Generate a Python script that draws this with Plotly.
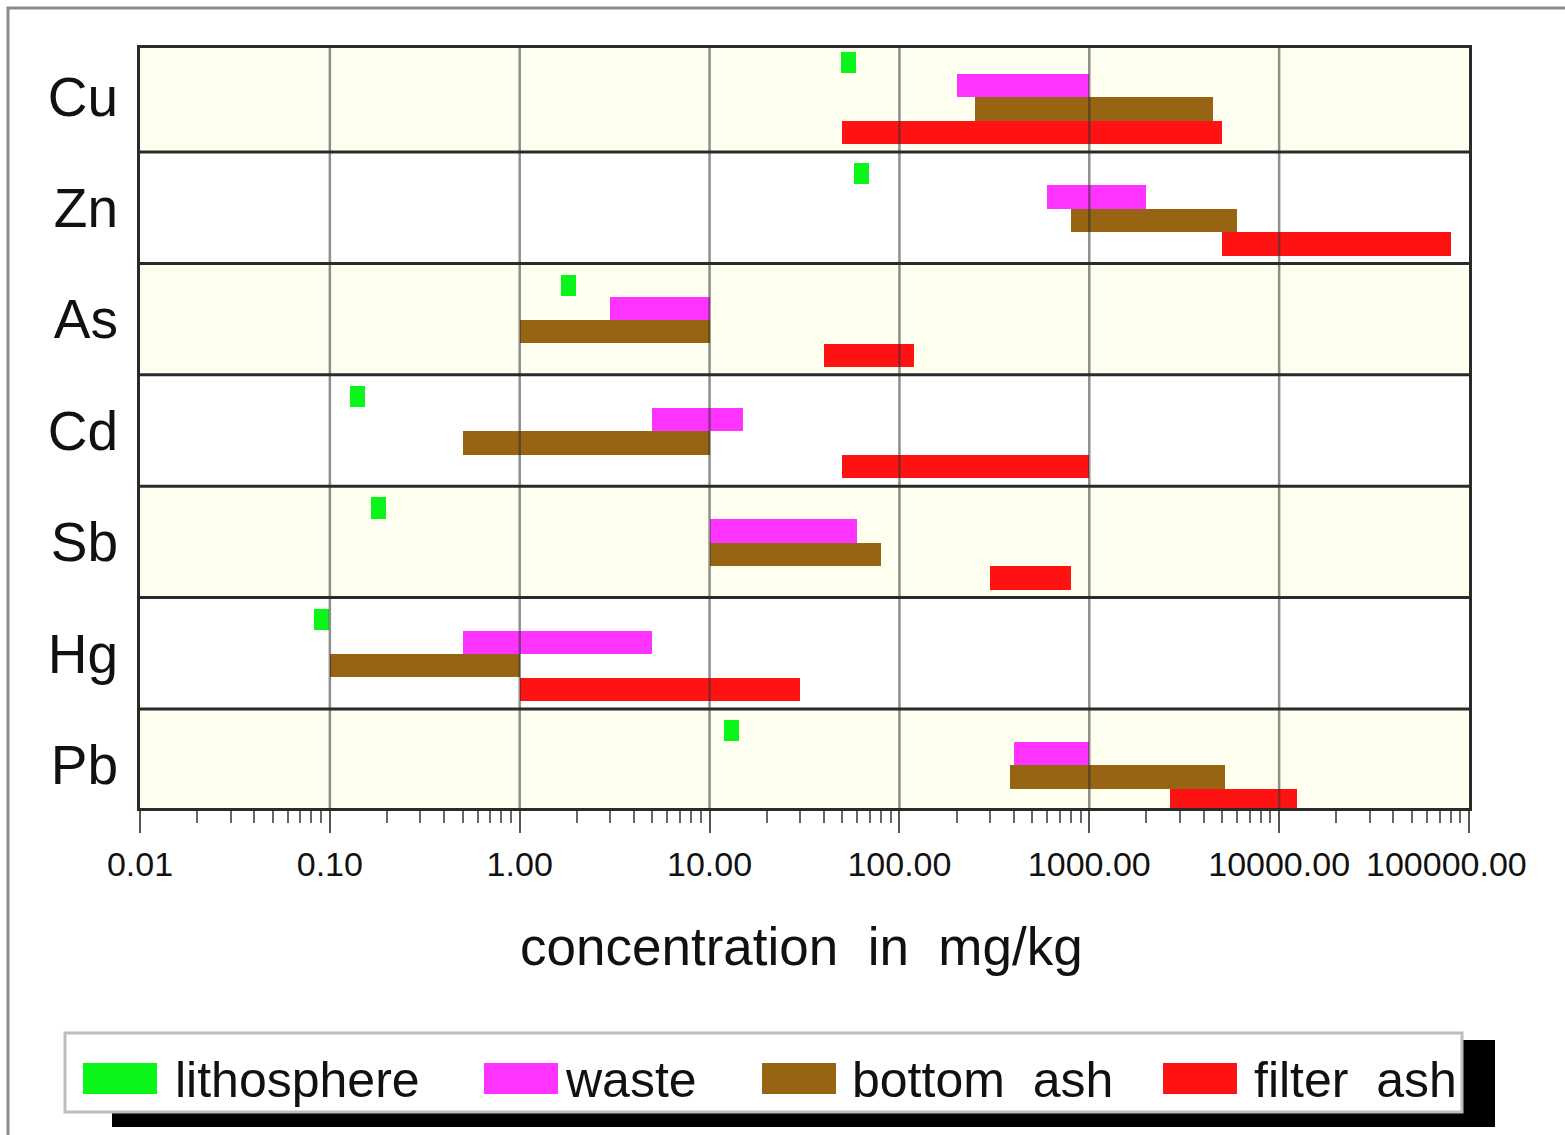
import plotly.graph_objects as go

# ---------------- data ----------------
elements = ["Cu", "Zn", "As", "Cd", "Sb", "Hg", "Pb"]
lithosphere = [54, 63, 1.8, 0.14, 0.18, 0.09, 13]
waste_lo = [200, 600, 3, 5, 10, 0.5, 400]
waste_hi = [1000, 2000, 10, 15, 60, 5, 1000]
bottom_lo = [250, 800, 1, 0.5, 10, 0.1, 380]
bottom_hi = [4500, 6000, 10, 10, 80, 1, 5200]
filter_lo = [50, 5000, 40, 50, 300, 1, 2650]
filter_hi = [5000, 80000, 120, 1000, 800, 30, 12400]
tick_vals = [0.01, 0.1, 1, 10, 100, 1000, 10000, 100000]
tick_text = ["0.01", "0.10", "1.00", "10.00", "100.00", "1000.00", "10000.00", "100000.00"]
series_names = ["lithosphere", "waste", "bottom\u00a0\u00a0ash", "filter\u00a0\u00a0ash"]

# ---------------- style ----------------
C_GREEN = "#0AF51A"
C_MAG = "#FF33FF"
C_BROWN = "#966413"
C_RED = "#FF1212"
CREAM = "#FFFFF0"
SANS = "Liberation Sans, Arial, sans-serif"

W, H = 1565, 1135
L, R, T, B = 140, 96, 48, 327
PW, PH = W - L - R, H - T - B


def px(xp):
    return (xp - L) / PW


def py(yp):
    return (H - B - yp) / PH


rows = list(range(len(elements)))
OFF = [-0.305, -0.097, 0.112, 0.325]
BW = 0.21
half = 10 ** 0.04

fig = go.Figure()

# lithosphere: small fixed-width marks
fig.add_trace(go.Bar(
    orientation="h", y=[r + OFF[0] for r in rows],
    base=[v / half for v in lithosphere],
    x=[v * half - v / half for v in lithosphere],
    width=0.19, marker=dict(color=C_GREEN, line=dict(width=0)),
    name=series_names[0], showlegend=False))
for k, (lo, hi, col) in enumerate([(waste_lo, waste_hi, C_MAG),
                                    (bottom_lo, bottom_hi, C_BROWN),
                                    (filter_lo, filter_hi, C_RED)]):
    fig.add_trace(go.Bar(
        orientation="h", y=[r + OFF[k + 1] for r in rows],
        base=lo, x=[h - l for l, h in zip(lo, hi)],
        width=BW, marker=dict(color=col, line=dict(width=0)),
        name=series_names[k + 1], showlegend=False))

shapes = []
# row backgrounds
for r in rows:
    if r % 2 == 0:
        shapes.append(dict(type="rect", xref="paper", yref="y", x0=0, x1=1,
                           y0=r - 0.5, y1=r + 0.5, fillcolor=CREAM,
                           line=dict(width=0), layer="below"))
# vertical decade gridlines above bars
for v in tick_vals[1:-1]:
    shapes.append(dict(type="line", xref="x", yref="paper", x0=v, x1=v, y0=0, y1=1,
                       line=dict(color="rgba(50,50,50,0.55)", width=2.5), layer="above"))
# row separators
for r in rows[:-1]:
    shapes.append(dict(type="line", xref="paper", yref="y", x0=0, x1=1,
                       y0=r + 0.5, y1=r + 0.5,
                       line=dict(color="#2a2a2a", width=3), layer="above"))
# outer gray frame
shapes.append(dict(type="rect", xref="paper", yref="paper",
                   x0=px(8), x1=px(1600), y0=py(1160), y1=py(8),
                   line=dict(color="#8a8a8a", width=3), fillcolor="rgba(0,0,0,0)"))
# legend shadow + box
shapes.append(dict(type="rect", xref="paper", yref="paper",
                   x0=px(112), x1=px(1495), y0=py(1127), y1=py(1040),
                   line=dict(width=0), fillcolor="#000000"))
shapes.append(dict(type="rect", xref="paper", yref="paper",
                   x0=px(65), x1=px(1462), y0=py(1112), y1=py(1033),
                   line=dict(color="#bdbdbd", width=3), fillcolor="#ffffff"))

annotations = []
sw_x = [83, 484, 762, 1163]
tx_x = [173, 563, 850, 1252]
for cx, tx, col, nm in zip(sw_x, tx_x, [C_GREEN, C_MAG, C_BROWN, C_RED], series_names):
    shapes.append(dict(type="rect", xref="paper", yref="paper",
                       x0=px(cx), x1=px(cx + 74), y0=py(1094), y1=py(1063),
                       line=dict(width=0), fillcolor=col))
    annotations.append(dict(xref="paper", yref="paper", x=px(tx), y=py(1080),
                            xanchor="left", yanchor="middle", showarrow=False,
                            text=nm, font=dict(family=SANS, size=50, color="#111")))

annotations.append(dict(xref="paper", yref="paper", x=px(801), y=py(946),
                        xanchor="center", yanchor="middle", showarrow=False,
                        text="concentration\u00a0\u00a0in\u00a0\u00a0mg/kg",
                        font=dict(family=SANS, size=53, color="#111")))
# last tick label, nudged left so it stays inside the picture (as in the reference)
annotations.append(dict(xref="paper", yref="paper", x=px(1446), y=py(864),
                        xanchor="center", yanchor="middle", showarrow=False,
                        text=tick_text[-1],
                        font=dict(family=SANS, size=34, color="#111")))

minor_vals = [k * 10 ** d for d in range(-2, 5) for k in range(2, 10)]

fig.update_layout(
    width=W, height=H,
    margin=dict(l=L, r=R, t=T, b=B, pad=0, autoexpand=False),
    paper_bgcolor="white", plot_bgcolor="white",
    barmode="overlay", bargap=0,
    showlegend=False,
    shapes=shapes, annotations=annotations,
    xaxis=dict(type="log", range=[-2, 5], tickmode="array",
               tickvals=tick_vals, ticktext=tick_text[:-1] + [""], automargin=False,
               ticks="outside", ticklen=22, tickwidth=2, tickcolor="#555",
               showgrid=False, zeroline=False, ticklabeloverflow="allow",
               showline=True, linecolor="#2a2a2a", linewidth=3, mirror=True,
               ticklabelstandoff=2,
               tickfont=dict(family=SANS, size=34, color="#111")),
    yaxis=dict(range=[6.389, -0.434], tickmode="array", tickvals=rows,
               ticktext=elements, ticks="", showgrid=False, zeroline=False,
               showline=True, linecolor="#2a2a2a", linewidth=3, mirror=True,
               ticklabelstandoff=8, automargin=False,
               tickfont=dict(family=SANS, size=55, color="#111")),
)
fig.update_xaxes(minor=dict(tickmode="array", tickvals=minor_vals, ticks="outside",
                            ticklen=12, tickwidth=1.5, tickcolor="#666", showgrid=False))

fig.write_html("out.html")
